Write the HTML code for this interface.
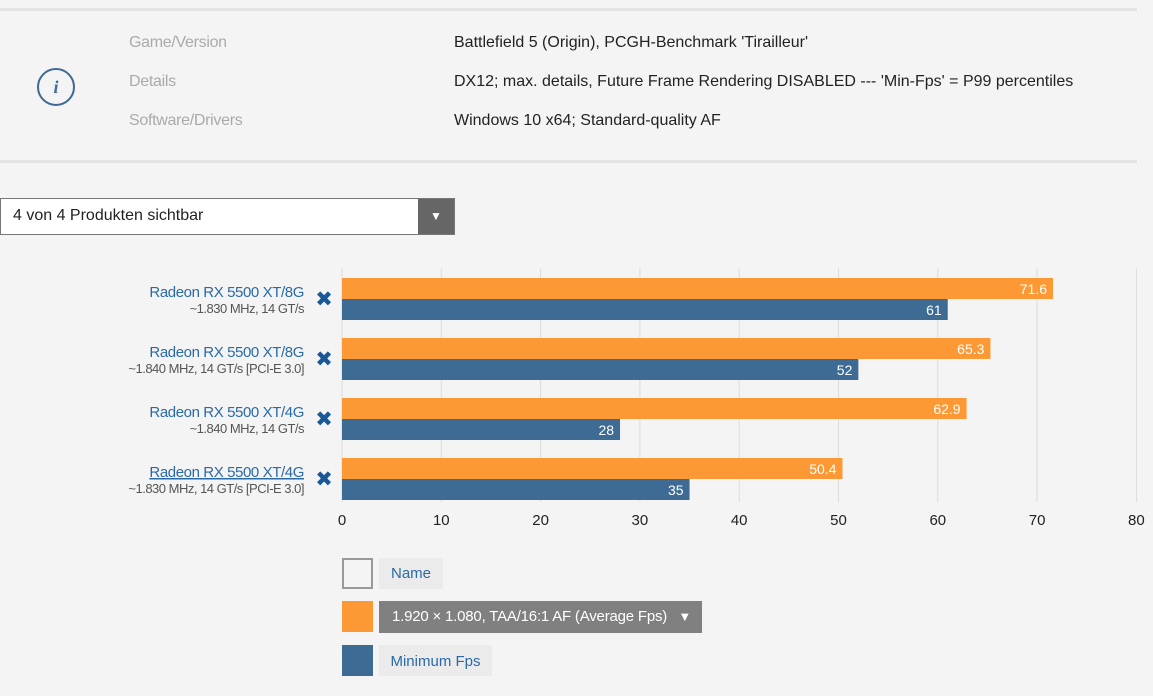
<!DOCTYPE html>
<html><head><meta charset="utf-8"><style>
body{margin:0;width:1153px;height:696px;background:#f4f4f4;font-family:"Liberation Sans",sans-serif;position:relative;overflow:hidden}
.a{position:absolute}
.lbl{color:#aaa;font-size:16px}
.val{color:#222;font-size:16px}
</style></head><body>
<div class="a" style="left:0;top:8px;width:1137px;height:3px;background:#e3e3e3"></div>
<div class="a" style="left:0;top:160px;width:1137px;height:3px;background:#e3e3e3"></div>
<div class="a" style="left:37px;top:68px;width:34px;height:34px;border:2px solid #3d6b94;border-radius:50%;color:#3d6b94;font:italic bold 18px 'Liberation Serif',serif;text-align:center;line-height:34px">i</div>
<div class="a lbl" style="left:129px;top:34px;letter-spacing:-0.3px">Game/Version</div>
<div class="a lbl" style="left:129px;top:73px;letter-spacing:-0.3px">Details</div>
<div class="a lbl" style="left:129px;top:112px;letter-spacing:-0.3px">Software/Drivers</div>
<div class="a val" style="left:454px;top:34px">Battlefield 5 (Origin), PCGH-Benchmark 'Tirailleur'</div>
<div class="a val" style="left:454px;top:73px">DX12; max. details, Future Frame Rendering DISABLED --- 'Min-Fps' = P99 percentiles</div>
<div class="a val" style="left:454px;top:112px">Windows 10 x64; Standard-quality AF</div>
<div class="a" style="left:0;top:198px;width:455px;height:37px;border:1px solid #777;box-sizing:border-box;background:#fff">
<span class="a" style="left:12px;top:8px;font-size:16px;color:#222">4 von 4 Produkten sichtbar</span>
<span class="a" style="right:0;top:0;width:36px;height:35px;background:#666;color:#fff;text-align:center;line-height:35px;font-size:12px">▼</span>
</div>
<svg class="a" style="left:0;top:0" width="1153" height="696" id="chart"></svg>
<div class="a" style="left:342px;top:558px;width:31px;height:31px;border:2px solid #999;box-sizing:border-box"></div>
<div class="a" style="left:379px;top:558px;width:64px;height:31px;background:#ebebeb;color:#2a6aa6;font-size:15px;line-height:31px;text-align:center">Name</div>
<div class="a" style="left:342px;top:601px;width:31px;height:31px;background:#fd9935"></div>
<div class="a" style="left:379px;top:601px;width:323px;height:32px;background:#808080;color:#fff;font-size:15px;line-height:32px;padding-left:13px;box-sizing:border-box;letter-spacing:-0.2px">1.920 × 1.080, TAA/16:1 AF (Average Fps)<span style="position:absolute;right:11px;font-size:13px">▼</span></div>
<div class="a" style="left:342px;top:645px;width:31px;height:31px;background:#3d6b94"></div>
<div class="a" style="left:379px;top:645px;width:113px;height:31px;background:#ebebeb;color:#2a6aa6;font-size:15px;line-height:33px;text-align:center">Minimum Fps</div>
<script>
const names=["Radeon RX 5500 XT/8G","Radeon RX 5500 XT/8G","Radeon RX 5500 XT/4G","Radeon RX 5500 XT/4G"];
const subs=["~1.830 MHz, 14 GT/s","~1.840 MHz, 14 GT/s [PCI-E 3.0]","~1.840 MHz, 14 GT/s","~1.830 MHz, 14 GT/s [PCI-E 3.0]"];
const avgFps=[71.6,65.3,62.9,50.4];
const minFps=[61,52,28,35];
const ticks=[0,10,20,30,40,50,60,70,80];
const svg=document.getElementById('chart');
const NS='http://www.w3.org/2000/svg';
const x=v=>342+v*9.93;
const y=i=>278+i*60;
function el(t,a){const e=document.createElementNS(NS,t);for(const k in a)e.setAttribute(k,a[k]);svg.appendChild(e);return e;}
ticks.forEach(t=>{
 const g=el('line',{x1:x(t),x2:x(t),y1:268,y2:502,stroke:'#dcdcdc','stroke-width':1});
 
 
 const l=el('text',{x:x(t),y:525,'text-anchor':'middle','font-size':15,fill:'#222','font-family':'Liberation Sans'});
 l.textContent=t;
 
 
});
names.forEach((n,i)=>{
 const t=el('text',{x:304,y:y(i)+19,'text-anchor':'end','font-size':15,fill:'#2a6aa6','font-family':'Liberation Sans','letter-spacing':'-0.4','text-decoration':i==3?'underline':'none'});
 t.textContent=n;
 
 
 const s=el('text',{x:304,y:y(i)+35,'text-anchor':'end','font-size':13,fill:'#555','font-family':'Liberation Sans','letter-spacing':'-0.5'});
 s.textContent=subs[i];
 
 
 const r=el('text',{x:324,y:y(i)+28,'text-anchor':'middle','font-size':21,'font-weight':'bold',fill:'#1a5796','font-family':'DejaVu Sans'});
 r.textContent='✖';
 
 
 const a=el('rect',{x:x(0),y:y(i),width:x(avgFps[i])-x(0),height:21,fill:'#fd9935'});
 
 
 const at=el('text',{x:x(avgFps[i])-6,y:y(i)+16,'text-anchor':'end','font-size':14,fill:'#fff','font-family':'Liberation Sans'});
 at.textContent=avgFps[i];
 
 
 const b=el('rect',{x:x(0),y:y(i)+21,width:x(minFps[i])-x(0),height:21,fill:'#3d6b94'});
 
 
 const bt=el('text',{x:x(minFps[i])-6,y:y(i)+37,'text-anchor':'end','font-size':14,fill:'#fff','font-family':'Liberation Sans'});
 bt.textContent=minFps[i];
 
 
});
</script>
</body></html>
